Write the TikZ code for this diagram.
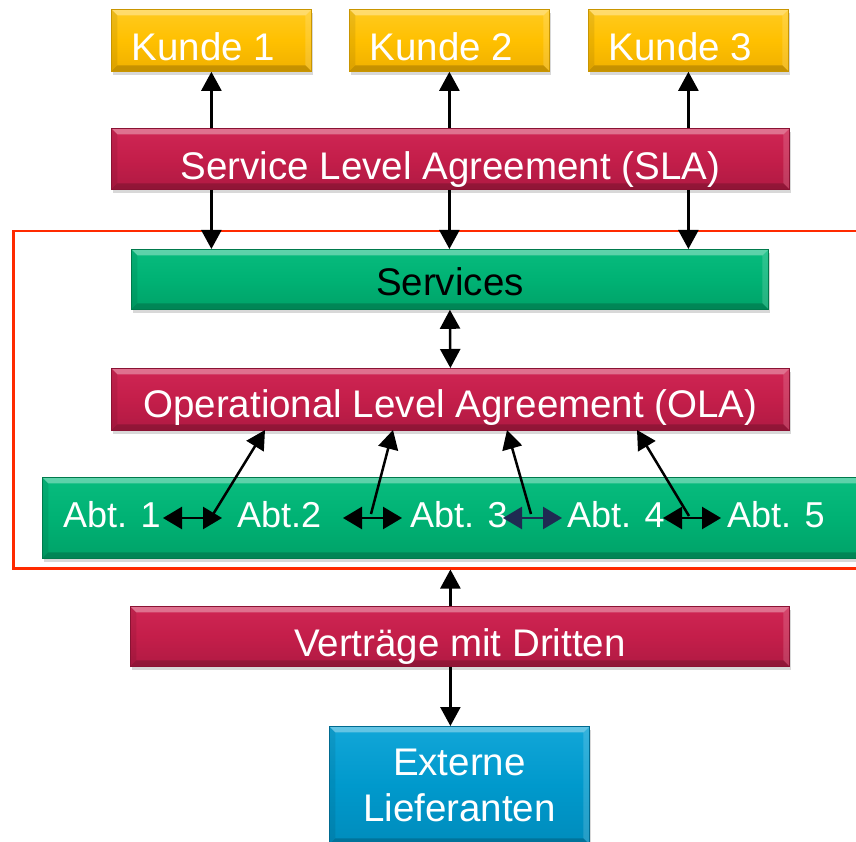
\documentclass[tikz,border=0pt]{standalone}
\usepackage{fontspec}
\setmainfont{Liberation Sans}
\usetikzlibrary{arrows.meta,shadows}
\definecolor{goldM}{HTML}{FFC000}
\definecolor{goldT}{HTML}{FFCA20}
\definecolor{goldB}{HTML}{F0B000}
\definecolor{goldD}{HTML}{C99500}
\definecolor{redM}{HTML}{C41E4A}
\definecolor{redT}{HTML}{CF2654}
\definecolor{redB}{HTML}{B01A43}
\definecolor{redD}{HTML}{8A1233}
\definecolor{grnM}{HTML}{00B274}
\definecolor{grnT}{HTML}{08BC7E}
\definecolor{grnB}{HTML}{00A268}
\definecolor{grnD}{HTML}{007A4C}
\definecolor{bluM}{HTML}{0099CC}
\definecolor{bluT}{HTML}{12A6D8}
\definecolor{bluB}{HTML}{008CBC}
\definecolor{bluD}{HTML}{006A90}
\definecolor{frameRed}{HTML}{FF2A00}
\definecolor{navy}{HTML}{1F2A52}
\begin{document}
\begin{tikzpicture}[x=1pt,y=-1pt,
  bevel/.style={path picture={
    \fill[white,opacity=0.35] (path picture bounding box.north west) -- (path picture bounding box.north east)
       -- ([xshift=-6pt,yshift=-6pt]path picture bounding box.north east) -- ([xshift=6pt,yshift=-6pt]path picture bounding box.north west) -- cycle;
    \fill[white,opacity=0.15] (path picture bounding box.north east) -- (path picture bounding box.south east)
       -- ([xshift=-6pt,yshift=6pt]path picture bounding box.south east) -- ([xshift=-6pt,yshift=-6pt]path picture bounding box.north east) -- cycle;
    \fill[black,opacity=0.18] (path picture bounding box.south west) -- (path picture bounding box.south east)
       -- ([xshift=-6pt,yshift=6pt]path picture bounding box.south east) -- ([xshift=6pt,yshift=6pt]path picture bounding box.south west) -- cycle;
    \fill[black,opacity=0.08] (path picture bounding box.north west) -- (path picture bounding box.south west)
       -- ([xshift=6pt,yshift=6pt]path picture bounding box.south west) -- ([xshift=6pt,yshift=-6pt]path picture bounding box.north west) -- cycle;
  }},
  box/.style={rectangle, inner sep=0pt, anchor=north west, text=white,
    font=\fontsize{38.5}{46}\selectfont, line width=0.8pt, bevel,
    drop shadow={opacity=0.3,shadow xshift=2pt,shadow yshift=-4pt}},
  toff/.style={text height=#1, text depth=0pt},
  goldbox/.style={box, draw=goldD, top color=goldT, bottom color=goldB, middle color=goldM},
  redbox/.style={box, draw=redD, top color=redT, bottom color=redB, middle color=redM},
  grnbox/.style={box, draw=grnD, top color=grnT, bottom color=grnB, middle color=grnM},
  blubox/.style={box, draw=bluD, top color=bluT, bottom color=bluB, middle color=bluM},
  abt/.style={anchor=base west, inner sep=0pt, text=white, font=\fontsize{36}{40}\selectfont},
  arr/.style={line width=2.5pt, -{Triangle[length=19pt,width=20pt]}},
  darr/.style={line width=2.5pt, {Triangle[length=19pt,width=20pt]}-{Triangle[length=19pt,width=20pt]}},
  harr/.style={line width=2.5pt, {Triangle[length=19pt,width=22pt]}-{Triangle[length=19pt,width=22pt]}},
  framebox/.style={rectangle, inner sep=0pt, anchor=north west, draw=frameRed, line width=2.5pt}
]
\useasboundingbox[fill=white] (0,0) rectangle (856,842);

% red frame
\node[framebox, minimum width=870pt, minimum height=337pt] (frame) at (12,230) {};

% customers
\node[goldbox, toff=41pt, minimum width=200pt, minimum height=62pt] (k1) at (111,9) {Kunde 1\hspace*{16pt}};
\node[goldbox, toff=41pt, minimum width=200pt, minimum height=62pt] (k2) at (349,9) {Kunde 2\hspace*{16pt}};
\node[goldbox, toff=41pt, minimum width=200pt, minimum height=62pt] (k3) at (588,9) {Kunde 3\hspace*{16pt}};

% SLA
\node[redbox, toff=42pt, minimum width=678pt, minimum height=61pt] (sla) at (111,128) {Service Level Agreement (SLA)};

% Services
\node[grnbox, toff=31.5pt, text=black, minimum width=637pt, minimum height=60pt] (serv) at (131,249) {Services};

% OLA
\node[redbox, toff=37pt, minimum width=678pt, minimum height=62pt] (ola) at (111,368) {Operational Level Agreement (OLA)};

% Abteilungen bar
\node[grnbox, minimum width=840pt, minimum height=81pt] (bar) at (42,477) {};
\node[abt] (a1) at (63,527) {Abt. 1};
\node[abt] (a2) at (237,527) {Abt.2};
\node[abt] (a3) at (410,527) {Abt. 3};
\node[abt] (a4) at (567,527) {Abt. 4};
\node[abt] (a5) at (727,527) {Abt. 5};

% Vertraege
\node[redbox, toff=41pt, minimum width=659pt, minimum height=60pt] (vd) at (130,606) {Verträge mit Dritten};

% Externe Lieferanten
\node[blubox, align=center, minimum width=260pt, minimum height=118pt] (ext) at (329,726) {Externe\\Lieferanten};

% customer arrows
\draw[arr] (k1.south |- sla.north) -- (k1.south);
\draw[arr] (k2.south |- sla.north) -- (k2.south);
\draw[arr] (k3.south |- sla.north) -- (k3.south);
\draw[arr] (k1.south |- sla.south) -- (k1.south |- serv.north);
\draw[arr] (k2.south |- sla.south) -- (k2.south |- serv.north);
\draw[arr] (k3.south |- sla.south) -- (k3.south |- serv.north);

% services <-> OLA
\draw[darr] (serv.south) -- (ola.north);

% department arrows
\coordinate (h1l) at (163,518); \coordinate (h1r) at (222,518);
\coordinate (h2l) at (343,518); \coordinate (h2r) at (402,518);
\coordinate (h3l) at (503,518); \coordinate (h3r) at (562,518);
\coordinate (h4l) at (663,518); \coordinate (h4r) at (721,518);
\draw[harr] (h1l) -- (h1r);
\draw[harr] (h2l) -- (h2r);
\draw[harr, navy] (h3l) -- (h3r);
\draw[harr] (h4l) -- (h4r);

\coordinate (d1) at (212,516); \coordinate (o1) at (265,430);
\coordinate (d2) at (371,514); \coordinate (o2) at (393,430);
\coordinate (d3) at (531,514); \coordinate (o3) at (507,430);
\coordinate (d4) at (689,516); \coordinate (o4) at (637,430);
\draw[arr] (d1) -- (o1);
\draw[arr] (d2) -- (o2);
\draw[arr] (d3) -- (o3);
\draw[arr] (d4) -- (o4);

% bottom arrows
\draw[arr] (ola.center |- vd.north) -- (ola.center |- frame.south);
\draw[arr] (ola.center |- vd.south) -- (ola.center |- ext.north);
\end{tikzpicture}
\end{document}
